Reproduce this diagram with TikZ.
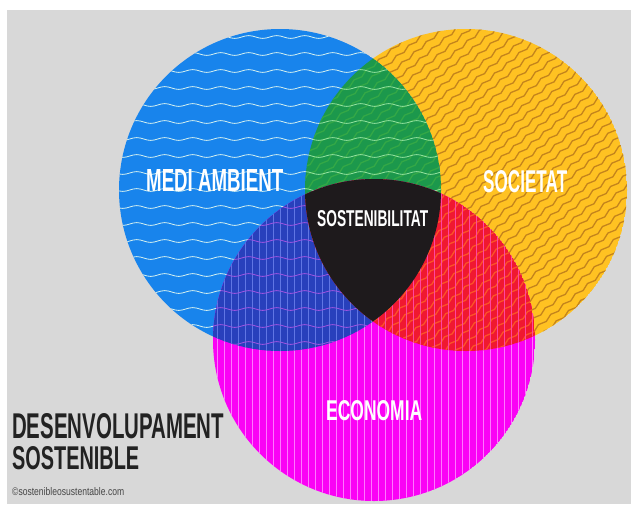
\documentclass[tikz,border=0pt]{standalone}
\usepackage{fontspec}
\setmainfont{Liberation Sans}
\usepackage{graphicx}
\usetikzlibrary{decorations.pathmorphing}
\definecolor{bggray}{RGB}{216,216,216}
\definecolor{cblue}{RGB}{24,132,236}
\definecolor{cyellow}{RGB}{255,194,34}
\definecolor{cmag}{RGB}{250,2,245}
\definecolor{cgreen}{RGB}{28,152,76}
\definecolor{cdblue}{RGB}{40,64,188}
\definecolor{cred}{RGB}{240,24,48}
\definecolor{cblack}{RGB}{30,26,28}
\definecolor{ylines}{RGB}{196,132,28}
\definecolor{glines}{RGB}{52,168,70}
\definecolor{gwaves}{RGB}{150,228,160}
\definecolor{bwaves}{RGB}{214,242,240}
\definecolor{mlines}{RGB}{255,120,255}
\definecolor{dblines}{RGB}{96,118,228}
\definecolor{dbwaves}{RGB}{160,84,226}
\definecolor{rlines}{RGB}{255,70,160}
\definecolor{rdiag}{RGB}{250,84,40}
\definecolor{darktext}{RGB}{34,34,34}
\definecolor{copytext}{RGB}{70,70,70}
\newcommand{\fitbox}[3]{\resizebox{#1pt}{#2pt}{\bfseries #3}}
\newcommand{\fitboxr}[3]{\resizebox{#1pt}{#2pt}{#3}}
\def\Bc{(280,190) circle[radius=161]}
\def\Yc{(466,190) circle[radius=161]}
\def\Mc{(374,340) circle[radius=161]}
\tikzset{
  hwave/.style={decorate, decoration={snake, amplitude=1.4pt, segment length=28pt}, line width=0.8pt},
  dwave/.style={decorate, decoration={snake, amplitude=1.3pt, segment length=16pt}, line width=1.3pt},
  vline/.style={line width=0.6pt},
  lbl/.style={inner sep=0pt, anchor=north west, text=white},
  dlbl/.style={inner sep=0pt, anchor=north west, text=darktext}
}
\newcommand{\hwaves}[1]{\foreach \yy in {37,54,...,360}{\draw[hwave,#1] (100,\yy) -- (460,\yy);}}
\newcommand{\dwaves}[1]{\begin{scope}[shift={(466,190)}, rotate=40]\foreach \yy in {-240,-231.5,...,240}{\draw[dwave,#1] (-260,\yy) -- (260,\yy);}\end{scope}}
\newcommand{\vlines}[1]{\foreach \xx in {210,217,...,540}{\draw[vline,#1] (\xx,175) -- (\xx,505);}}
\begin{document}
\begin{tikzpicture}[x=1pt,y=-1pt]
\useasboundingbox (0,0) rectangle (631,504);
\fill[white] (0,0) rectangle (631,504);
\fill[bggray] (7,10) rectangle (631,504);
% yellow
\begin{scope}
\clip \Yc;
\fill[cyellow] \Yc;
\dwaves{ylines}
\end{scope}
% blue
\begin{scope}
\clip \Bc;
\fill[cblue] \Bc;
\hwaves{bwaves}
\end{scope}
% magenta
\begin{scope}
\clip \Mc;
\fill[cmag] \Mc;
\vlines{mlines}
\end{scope}
% green
\begin{scope}
\clip \Bc; \clip \Yc;
\fill[cgreen] \Yc;
\dwaves{glines}
\hwaves{gwaves}
\end{scope}
% dark blue
\begin{scope}
\clip \Bc; \clip \Mc;
\fill[cdblue] \Mc;
\vlines{dblines}
\hwaves{dbwaves}
\end{scope}
% red
\begin{scope}
\clip \Yc; \clip \Mc;
\fill[cred] \Mc;
\dwaves{rdiag}
\vlines{rlines}
\end{scope}
% black
\begin{scope}
\clip \Bc; \clip \Yc;
\fill[cblack] \Mc;
\end{scope}
% labels
\node[lbl] (medi) at (146,169) {\fitbox{137}{22}{MEDI AMBIENT}};
\node[lbl] (soc) at (483,170) {\fitbox{84}{22}{SOCIETAT}};
\node[lbl] (sost) at (317,210) {\fitbox{111}{16}{SOSTENIBILITAT}};
\node[lbl] (eco) at (326,400) {\fitbox{96}{20}{ECONOMIA}};
\node[dlbl] (des1) at (12,413) {\fitbox{212}{25}{DESENVOLUPAMENT}};
\node[dlbl] (des2) at (12,446) {\fitbox{127}{23}{SOSTENIBLE}};
\node[inner sep=0pt, anchor=north west, text=copytext] (copy) at (12,487) {\fitboxr{112}{8}{©sostenibleosustentable.com}};
\end{tikzpicture}
\end{document}
